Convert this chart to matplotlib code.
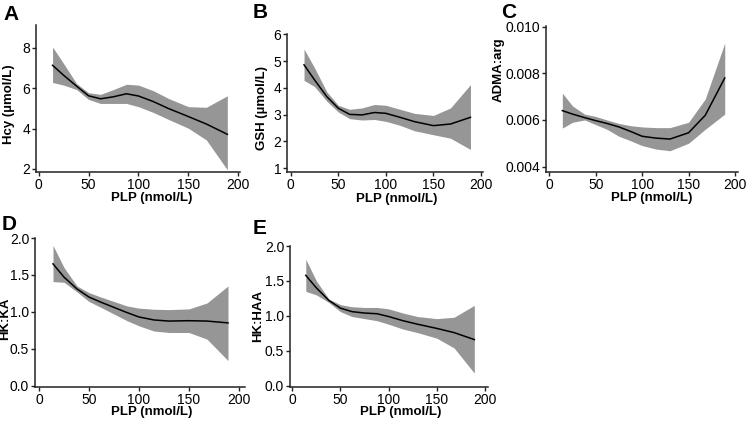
import matplotlib
matplotlib.use('Agg')
import matplotlib.pyplot as plt
from matplotlib.ticker import FormatStrFormatter

plt.rcParams['font.family'] = ['Liberation Sans', 'DejaVu Sans']

# PLP grid the fits were read at (nmol/L)
plp = [14, 25, 38, 50, 62, 75, 88, 100, 115, 130, 150, 168, 189]

# A - Hcy
hcy_fit = [7.14, 6.65, 6.11, 5.63, 5.48, 5.58, 5.73, 5.62, 5.34, 5.00, 4.60, 4.23, 3.72]
hcy_hi = [8.05, 7.23, 6.24, 5.78, 5.70, 5.94, 6.20, 6.16, 5.88, 5.50, 5.09, 5.06, 5.63]
hcy_lo = [6.29, 6.16, 5.94, 5.45, 5.25, 5.25, 5.25, 5.09, 4.80, 4.46, 4.02, 3.44, 1.96]

# B - GSH
gsh_fit = [4.86, 4.30, 3.67, 3.24, 3.01, 2.99, 3.08, 3.05, 2.90, 2.74, 2.59, 2.65, 2.90]
gsh_hi = [5.45, 4.75, 3.85, 3.35, 3.20, 3.25, 3.38, 3.35, 3.20, 3.05, 2.97, 3.25, 4.12]
gsh_lo = [4.28, 4.05, 3.50, 3.10, 2.85, 2.80, 2.82, 2.75, 2.60, 2.40, 2.25, 2.12, 1.70]

# C - ADMA:arg
adma_fit = [0.00640, 0.00625, 0.00610, 0.00597, 0.00585, 0.00570, 0.00550, 0.00530, 0.00522, 0.00518, 0.00545, 0.00620, 0.00780]
adma_hi = [0.00715, 0.00660, 0.00625, 0.00615, 0.00600, 0.00585, 0.00575, 0.00570, 0.00567, 0.00567, 0.00590, 0.00690, 0.00930]
adma_lo = [0.00565, 0.00590, 0.00600, 0.00580, 0.00560, 0.00530, 0.00510, 0.00490, 0.00475, 0.00468, 0.00500, 0.00560, 0.00625]

# D - HK:KA
hkka_fit = [1.65, 1.47, 1.31, 1.20, 1.13, 1.06, 0.99, 0.93, 0.89, 0.875, 0.88, 0.875, 0.85]
hkka_hi = [1.90, 1.60, 1.35, 1.26, 1.20, 1.14, 1.08, 1.05, 1.035, 1.03, 1.04, 1.12, 1.35]
hkka_lo = [1.41, 1.40, 1.27, 1.14, 1.06, 0.97, 0.88, 0.81, 0.74, 0.72, 0.72, 0.63, 0.34]

# E - HK:HAA
hkhaa_fit = [1.58, 1.40, 1.22, 1.11, 1.06, 1.04, 1.03, 0.99, 0.93, 0.88, 0.82, 0.76, 0.66]
hkhaa_hi = [1.81, 1.50, 1.24, 1.16, 1.13, 1.12, 1.12, 1.10, 1.04, 0.99, 0.96, 0.98, 1.15]
hkhaa_lo = [1.35, 1.30, 1.19, 1.06, 0.99, 0.96, 0.93, 0.88, 0.81, 0.76, 0.68, 0.54, 0.18]

x_ticks = [0, 50, 100, 150, 200]

W, H = 748, 426
fig = plt.figure(figsize=(W / 100, H / 100), dpi=100)


def make_axes(left, right, top, bottom):
    return fig.add_axes([left / W, 1 - bottom / H, (right - left) / W, (bottom - top) / H])


def draw_panel(ax, fit, lo, hi, ylabel, yticks, yfmt, xlim, ylim, ylab_xy, xlab_xy):
    ax.fill_between(plp, lo, hi, color='#969696', linewidth=0)
    ax.plot(plp, fit, color='black', linewidth=1.1)
    ax.set_xlim(*xlim)
    ax.set_ylim(*ylim)
    ax.set_xticks(x_ticks)
    ax.set_yticks(yticks)
    ax.yaxis.set_major_formatter(FormatStrFormatter(yfmt))
    for s in ['top', 'right']:
        ax.spines[s].set_visible(False)
    for s in ['left', 'bottom']:
        ax.spines[s].set_linewidth(1.1)
        ax.spines[s].set_color('#222222')
    ax.tick_params(direction='out', length=3, width=1, labelsize=10, pad=1.2, colors='#222222',
                   labelcolor='black')
    # axis titles placed in figure pixels to follow the reference layout
    fig.text(xlab_xy[0] / W, 1 - xlab_xy[1] / H, 'PLP (nmol/L)', fontsize=9.5,
             fontweight='bold', ha='center', va='center')
    fig.text(ylab_xy[0] / W, 1 - ylab_xy[1] / H, ylabel, fontsize=9.5, fontweight='bold',
             ha='center', va='center', rotation=90)


ax_a = make_axes(36.3, 240.3, 25, 172)
draw_panel(ax_a, hcy_fit, hcy_lo, hcy_hi, 'Hcy (µmol/L)', [2, 4, 6, 8], '%d',
           (-2.3, 202), (1.85, 9.14), (9, 104), (152, 198))

ax_b = make_axes(287.3, 483.3, 33.5, 171.7)
draw_panel(ax_b, gsh_fit, gsh_lo, gsh_hi, 'GSH (µmol/L)', [1, 2, 3, 4, 5, 6], '%d',
           (-3.6, 202.5), (0.87, 6.03), (262, 108), (397, 199))

ax_c = make_axes(546, 738.3, 26, 171.7)
draw_panel(ax_c, adma_fit, adma_lo, adma_hi, 'ADMA:arg', [0.004, 0.006, 0.008, 0.010], '%.3f',
           (-3.6, 203.6), (0.00378, 0.01003), (499, 70), (652, 198))

ax_d = make_axes(35, 245, 238, 387)
draw_panel(ax_d, hkka_fit, hkka_lo, hkka_hi, 'HK:KA', [0, 0.5, 1.0, 1.5, 2.0], '%.1f',
           (-4, 206), (-0.018, 2.0), (5.5, 319), (152, 412))

ax_e = make_axes(290, 488.3, 246, 387)
draw_panel(ax_e, hkhaa_fit, hkhaa_lo, hkhaa_hi, 'HK:HAA', [0, 0.5, 1.0, 1.5, 2.0], '%.1f',
           (-2.4, 203.5), (-0.019, 2.0), (258, 316), (401, 412))

for lab, px, py in [('A', 3, 14), ('B', 253, 12), ('C', 501, 12), ('D', 2, 225), ('E', 253, 229)]:
    fig.text(px / W, 1 - py / H, lab, fontsize=15, fontweight='bold', ha='left', va='center')

fig.savefig('out.png', dpi=100)
